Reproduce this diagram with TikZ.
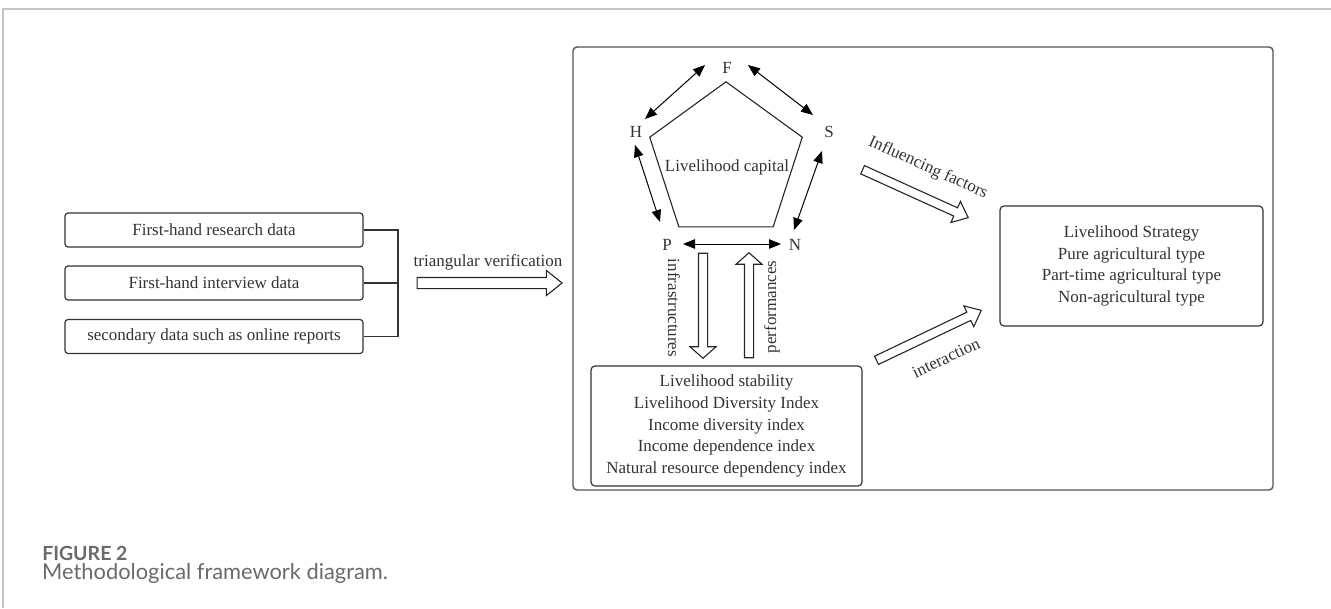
\documentclass[tikz,border=0pt]{standalone}
\usepackage{fontspec}
\setmainfont{Liberation Serif}
\newfontfamily\capfont{Lato}
\usetikzlibrary{arrows.meta,shapes.arrows,shapes.geometric}
\definecolor{ink}{HTML}{333333}
\definecolor{frame}{HTML}{555555}
\definecolor{rule}{HTML}{C4C4C4}
\definecolor{captxt}{HTML}{6A6A6A}
\begin{document}
\begin{tikzpicture}[x=1pt,y=-1pt,
  txt/.style={font=\fontsize{17}{21.6}\selectfont, text=ink, inner sep=0pt},
  srcbox/.style={draw=ink, line width=1.2pt, rounded corners=3pt, minimum width=298pt, minimum height=34pt, inner sep=0pt, font=\fontsize{17}{21.6}\selectfont, text=ink},
  infobox/.style={draw=ink, line width=1.2pt, rounded corners=4pt, inner sep=0pt, align=center, font=\fontsize{17}{21.6}\selectfont, text=ink},
  bi/.style={{Triangle[length=12pt,width=9.5pt]}-{Triangle[length=12pt,width=9.5pt]}, line width=1pt, draw=black},
  hollow/.style={single arrow, draw=black!85, line width=1.1pt, fill=white, inner xsep=0pt, anchor=tip},
  captext/.style={anchor=west, inner sep=0pt, text=captxt, transform shape}]
\useasboundingbox (0,0) rectangle (1331,608);
% page rules
\draw[rule, line width=1.5pt] (3,608) -- (3,9) -- (1331,9);
% source boxes
\node[srcbox] (b1) at (214,230) {First-hand research data};
\node[srcbox] (b2) at (214,283) {First-hand interview data};
\node[srcbox] (b3) at (214,336.5) {secondary data such as online reports};
\coordinate (jt) at (398,230);
\coordinate (jb) at (398,336.5);
\draw[ink, line width=1.2pt] (b1.east) -- (jt) -- (jb) -- (b3.east);
\draw[ink, line width=1.2pt] (b2.east) -- (b2.east -| jt);
% triangular verification
\node[hollow, rotate=0, minimum height=145pt, inner ysep=5pt, single arrow head extend=7pt, single arrow tip angle=77] (tv) at (563,283) {};
\node[txt] (tvl) at (488,262) {triangular verification};
% big frame
\node[draw=frame, line width=1.4pt, rounded corners=4pt, minimum width=700pt, minimum height=443pt, inner sep=0pt] (big) at (923,268.5) {};
% pentagon
\node[regular polygon, regular polygon sides=5, minimum size=160.4pt, inner sep=0pt, draw=black!85, line width=1.1pt] (pent) at (726,162) {};
\node[txt] (lc) at (727,167) {Livelihood capital};
\node[txt] (F) at (727,68) {F};
\node[txt] (H) at (636,132) {H};
\node[txt] (S) at (829,132) {S};
\node[txt] (P) at (667,245) {P};
\node[txt] (N) at (795,245) {N};
\coordinate (hf1) at (645,119); \coordinate (hf2) at (705,65);
\coordinate (fs1) at (748,65);  \coordinate (fs2) at (813,115);
\coordinate (hp1) at (635,145); \coordinate (hp2) at (660,222);
\coordinate (sn1) at (822,151); \coordinate (sn2) at (794,230);
\coordinate (pn1) at (683,244); \coordinate (pn2) at (781,244);
\draw[bi] (hf1) -- (hf2);
\draw[bi] (fs1) -- (fs2);
\draw[bi] (hp1) -- (hp2);
\draw[bi] (sn1) -- (sn2);
\draw[bi] (pn1) -- (pn2);
% vertical arrows
\node[hollow, rotate=-90, minimum height=105pt, inner ysep=4pt, single arrow head extend=8.5pt, single arrow tip angle=97] (down) at (703,359) {};
\node[hollow, rotate=90, minimum height=105pt, inner ysep=4pt, single arrow head extend=8.5pt, single arrow tip angle=97] (up) at (749,252) {};
\node[txt, rotate=-90] (infl) at (674,308) {infrastructures};
\node[txt, rotate=90] (perf) at (772,307) {performances};
% stability box
\node[infobox, minimum width=271pt, minimum height=120pt] (stab) at (726.5,426) {Livelihood stability\\Livelihood Diversity Index\\Income diversity index\\Income dependence index\\Natural resource dependency index};
% strategy box
\node[infobox, minimum width=263pt, minimum height=120pt] (strat) at (1131.5,266) {Livelihood Strategy\\Pure agricultural type\\Part-time agricultural type\\Non-agricultural type};
% diagonal arrows
\node[hollow, rotate=-24.4, minimum height=116pt, inner ysep=4pt, single arrow head extend=7pt, single arrow tip angle=80] (inf) at (969,218) {};
\node[txt, rotate=-24.4] (infl2) at (928,168) {Influencing factors};
\node[hollow, rotate=25.5, minimum height=116pt, inner ysep=4pt, single arrow head extend=7pt, single arrow tip angle=80] (inter) at (982,310) {};
\node[txt, rotate=25.5] (interl) at (946,358) {interaction};
% caption
\node[captext, scale=1.3] (fig) at (42,553) {\fontsize{15}{18}\selectfont\capfont\bfseries FIGURE 2};
\node[captext, scale=1.15] (cap) at (42,573) {\fontsize{19}{22}\selectfont\capfont Methodological framework diagram.};
\end{tikzpicture}
\end{document}
